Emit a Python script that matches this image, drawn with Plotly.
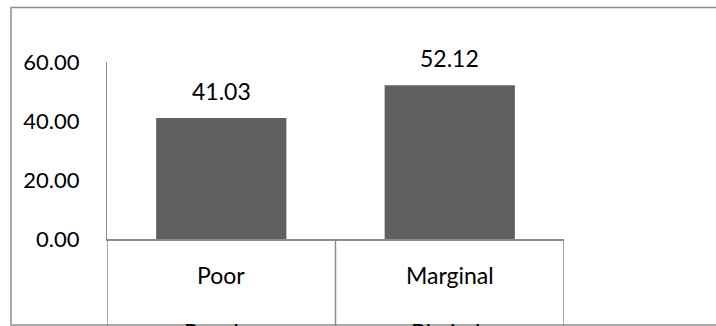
import plotly.graph_objects as go

# ---- data ----
groups = ["Rupsha", "Bhairab"]
classes = ["Poor", "Marginal"]
values = [41.03, 52.12]
y_ticks = [0, 20, 40, 60]

# ---- layout geometry (pixels) ----
W, H = 716, 326
L, R, T, B = 107, 152, 62, 87
pw = W - L - R
ph = H - T - B


def pxx(px):
    return (px - L) / pw


def pxy(py):
    return (H - B - py) / ph


FONT = "Lato"
FS = 23
LINE = "#8c8c8c"

xs = list(range(len(values)))

fig = go.Figure()
fig.add_trace(go.Bar(
    x=xs, y=values, width=0.57,
    marker=dict(color="#606060", line=dict(width=0)),
    cliponaxis=False, showlegend=False, hoverinfo="y",
))

shapes = []
# category divider lines
for i in range(len(values) + 1):
    shapes.append(dict(type="line", xref="x", yref="paper",
                       x0=i - 0.5, x1=i - 0.5, y0=0, y1=pxy(H + 5),
                       line=dict(color=LINE, width=1.5)))
# outer border
shapes.append(dict(type="rect", xref="paper", yref="paper",
                   x0=pxx(11), x1=pxx(W + 5), y0=pxy(325), y1=pxy(7.5),
                   line=dict(color=LINE, width=1.5), layer="below"))

annotations = []
for i, v in enumerate(values):
    annotations.append(dict(x=i, y=v, xref="x", yref="y", text=f"{v:.2f}",
                            showarrow=False, yanchor="middle", yshift=27,
                            font=dict(family=FONT, size=FS, color="#000")))
for i, (c, g) in enumerate(zip(classes, groups)):
    annotations.append(dict(x=i, y=pxy(275), xref="x", yref="paper", text=c,
                            showarrow=False, yanchor="middle",
                            font=dict(family=FONT, size=FS, color="#000")))
    annotations.append(dict(x=i, y=pxy(332), xref="x", yref="paper", text=g,
                            showarrow=False, yanchor="middle",
                            font=dict(family=FONT, size=FS, color="#000")))

fig.update_layout(
    width=W, height=H,
    margin=dict(l=L, r=R, t=T, b=B, pad=0),
    paper_bgcolor="white", plot_bgcolor="white",
    font=dict(family=FONT, size=FS, color="#000"),
    shapes=shapes, annotations=annotations,
    xaxis=dict(range=[-0.5, len(values) - 0.5], showticklabels=False,
               showgrid=False, zeroline=False, showline=True,
               linecolor=LINE, linewidth=1.5, ticks=""),
    yaxis=dict(range=[0, 60], tickvals=y_ticks,
               ticktext=[f"{v:.2f}" for v in y_ticks],
               showgrid=False, zeroline=False, showline=True,
               linecolor=LINE, linewidth=1.2, ticks="",
               ticklabelstandoff=22,
               tickfont=dict(family=FONT, size=22, color="#000")),
)

fig.write_html("out.html")
